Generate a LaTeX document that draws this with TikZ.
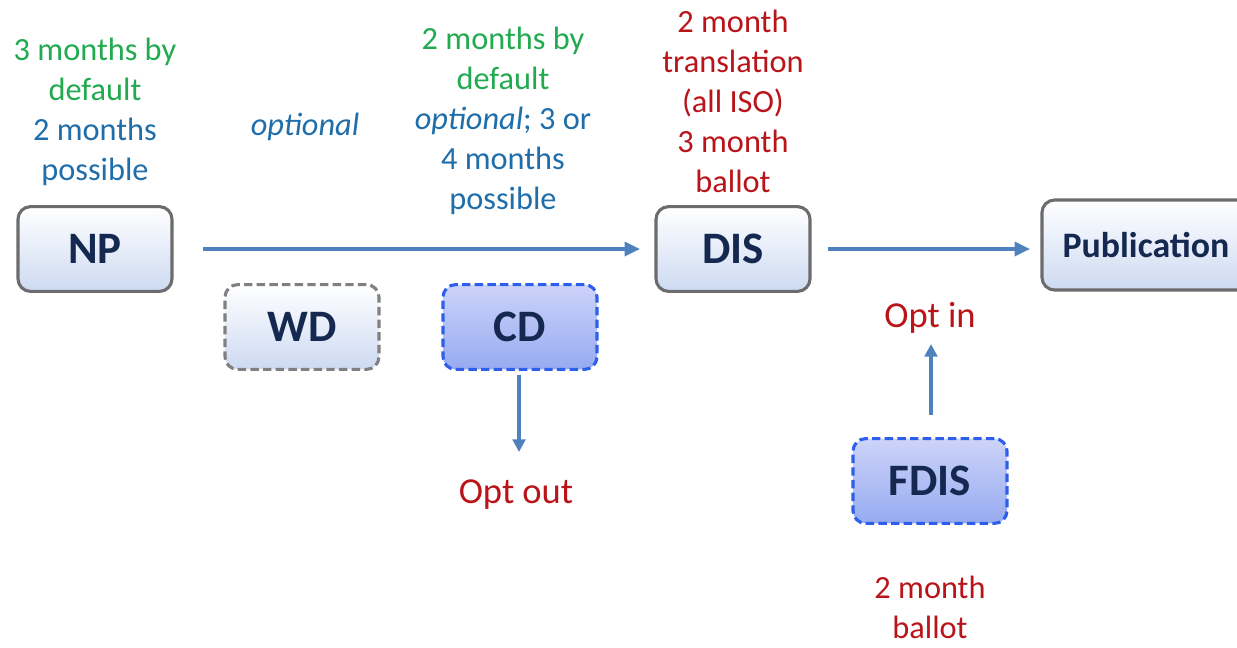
\documentclass[tikz,border=0pt]{standalone}
\usepackage{fontspec}
\setmainfont{Carlito}
\usetikzlibrary{arrows.meta}
\definecolor{grntxt}{RGB}{34,170,80}
\definecolor{blutxt}{RGB}{31,110,170}
\definecolor{redtxt}{RGB}{185,20,25}
\definecolor{navy}{RGB}{20,40,80}
\definecolor{flow}{RGB}{79,129,189}
\definecolor{optline}{RGB}{45,95,235}

\begin{document}
\begin{tikzpicture}[x=0.025cm,y=-0.025cm,
  stage/.style={draw=gray!85!black,line width=2.2pt,rounded corners=9pt,
    top color=white,bottom color={rgb,255:red,205;green,218;blue,242},
    minimum width=3.85cm,minimum height=2.12cm,text=navy,
    font=\fontsize{32}{34}\selectfont\bfseries},
  optbox/.style={stage,draw=optline,dashed,dash pattern=on 6pt off 3pt,
    top color={rgb,255:red,205;green,212;blue,250},bottom color={rgb,255:red,150;green,170;blue,240}},
  lbl/.style={align=center,font=\fontsize{23}{28.45}\selectfont},
  flowarrow/.style={draw=flow,line width=2.2pt,-{Triangle[length=11pt,width=10pt]}},
  optarrow/.style={draw=flow,line width=2.2pt,-{Triangle[length=9pt,width=9pt]}}]
\useasboundingbox (0,0) rectangle (1237,647);

% main line
\node[stage] (np) at (95,249) {NP};
\node[stage] (dis) at (733,249) {DIS};
\node[stage,minimum width=5.2cm,minimum height=2.25cm] (pub) at (1146,245) {\fontsize{25.5}{30}\selectfont Publication};

\node[stage,draw=gray,dashed,dash pattern=on 6pt off 3pt] (wd) at (302,327) {WD};
\node[optbox] (cd) at (520,327) {CD};
\node[optbox] (fdis) at (930,481) {FDIS};

\coordinate (npout) at (203,249);
\coordinate (disin) at (640,249);
\coordinate (disout) at (828,249);
\coordinate (pubin) at (1030,249);
\draw[flowarrow] (npout) -- (disin);
\draw[flowarrow] (disout) -- (pubin);

% durations
\node[lbl] (nptime) at (95,112) {\textcolor{grntxt}{3 months by}\\\textcolor{grntxt}{default}\\\textcolor{blutxt}{2 months}\\\textcolor{blutxt}{possible}};
\node[lbl,text=blutxt] (wdtime) at (305,127) {\itshape optional};
\node[lbl] (cdtime) at (503,121) {\textcolor{grntxt}{2 months by}\\\textcolor{grntxt}{default}\\\textcolor{blutxt}{\itshape optional\upshape; 3 or}\\\textcolor{blutxt}{4 months}\\\textcolor{blutxt}{possible}};
\node[lbl,text=redtxt] (distime) at (733,101) {2 month\\translation\\(all ISO)\\3 month\\ballot};

% opt out / opt in
\node[lbl,text=redtxt,font=\fontsize{26}{30}\selectfont] (optout) at (516,495) {Opt out};
\node[lbl,text=redtxt,font=\fontsize{26}{30}\selectfont] (optin) at (930,318) {Opt in};
\coordinate (cdout) at (519,375);
\coordinate (optoutin) at (519,452);
\coordinate (fdisout) at (931,415);
\coordinate (optinin) at (931,344);
\draw[optarrow] (cdout) -- (optoutin);
\draw[optarrow] (fdisout) -- (optinin);
\node[lbl,text=redtxt] (fdistime) at (930,607) {2 month\\ballot};
\end{tikzpicture}
\end{document}
